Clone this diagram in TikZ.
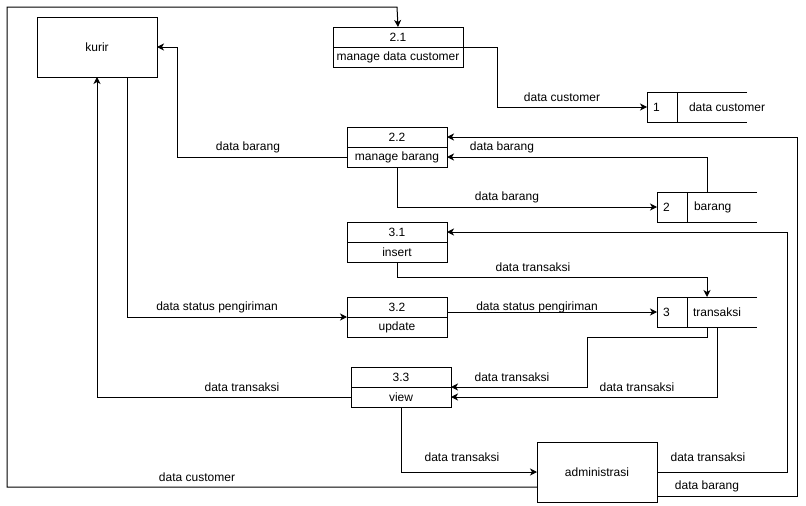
\documentclass[tikz,border=0pt]{standalone}
\usepackage{fontspec}
\setmainfont{Liberation Sans}
\usetikzlibrary{arrows.meta}
\begin{document}
\begin{tikzpicture}[x=1pt,y=-1pt,
  every node/.style={font=\fontsize{12}{14}\selectfont, inner sep=0pt, outer sep=0pt},
  line/.style={line width=1pt},
  flow/.style={line, -{Stealth[length=7pt,width=7pt,inset=2pt]}},
  cell/.style={draw, line width=1pt, minimum height=20pt, anchor=north west},
  entity/.style={draw, line width=1pt, minimum width=120pt, minimum height=60pt},
  storebox/.style={minimum width=100pt, minimum height=30pt}]
\useasboundingbox (0,0) rectangle (806,506);

% external entities
\node[entity] (kurir) at (97,47) {kurir};
\node[entity] (admin) at (597,472) {administrasi};

% processes (number cell on top, name cell below)
\node[cell, minimum width=130pt] (p21n) at (333,27) {2.1};
\node[cell, minimum width=130pt] (p21) at (333,47) {manage data customer};
\node[cell, minimum width=100pt] (p22n) at (347,127) {2.2};
\node[cell, minimum width=100pt] (p22) at (347,147) {manage barang};
\node[cell, minimum width=100pt] (p31n) at (347,222) {3.1};
\node[cell, minimum width=100pt] (p31) at (347,242) {insert};
\node[cell, minimum width=100pt] (p32n) at (347,297) {3.2};
\node[cell, minimum width=100pt] (p32) at (347,317) {update};
\node[cell, minimum width=100pt] (p33n) at (351,367) {3.3};
\node[cell, minimum width=100pt] (p33) at (351,387) {view};

% data stores: open-ended box with an id cell
\newcommand{\datastore}[5]{%
  \node[storebox] (#1) at (#2) {};
  \draw[line] (#1.north east) -- (#1.north west) -- (#1.south west) -- (#1.south east);
  \draw[line] ([xshift=30pt]#1.north west) -- ([xshift=30pt]#1.south west);
  \node[anchor=west] (#1num) at ([xshift=6pt]#1.west) {#3};
  \node[anchor=west] (#1name) at ([xshift=#5]#1.west) {#4};
}
\datastore{s1}{697,107}{1}{data customer}{42pt}
\datastore{s2}{707,207}{2}{barang}{37pt}
\datastore{s3}{707,312}{3}{transaksi}{36pt}

% data flows
\coordinate (kurirA) at (97,77);
\coordinate (kurirB) at (127,77);

\draw[flow] (admin.west |- 0,487) -- (7,487) -- (7,7) -- (397,7) -- (p21n.north);
\node at (197,477) {data customer};

\draw[flow] (p21n.south east) -- (497,47) -- (497,107) -- (s1.west);
\node at (562,97) {data customer};

\draw[flow] (p22.west) -- (177,157) -- (177,47) -- (kurir.east);
\node at (248,147) {data barang};

\draw[flow] (s2.north) -- (707,157) -- (p22.east);
\node at (502,147) {data barang};

\draw[flow] (p22.south) -- (397,207) -- (s2.west);
\node at (507,197) {data barang};

\draw[flow] (p31.south) -- (397,277) -- (707,277) -- (s3.north);
\node at (533,267) {data transaksi};

\draw[flow] (kurirB) -- (127,317) -- (p32n.south west);
\node at (217,307) {data status pengiriman};

\draw[flow] (p32.east |- 0,312) -- (s3.west);
\node at (537,307) {data status pengiriman};

\draw[flow] (s3.south) -- (707,337) -- (587,337) -- (587,387) -- (p33.north east);
\node at (512,377) {data transaksi};

\draw[flow] (s3.south -| 717,0) -- (717,397) -- (p33.east);
\node at (637,387) {data transaksi};

\draw[flow] (p33.west) -- (97,397) -- (kurirA);
\node at (242,387) {data transaksi};

\draw[flow] (p33.south) -- (401,472) -- (admin.west);
\node at (462,457) {data transaksi};

\draw[flow] (admin.east) -- (787,472) -- (787,232) -- (p31n.east);
\node at (708,457) {data transaksi};

\draw[flow] (admin.east |- 0,496) -- (797,496) -- (797,137) -- (p22n.east);
\node at (707,486) {data barang};
\end{tikzpicture}
\end{document}
